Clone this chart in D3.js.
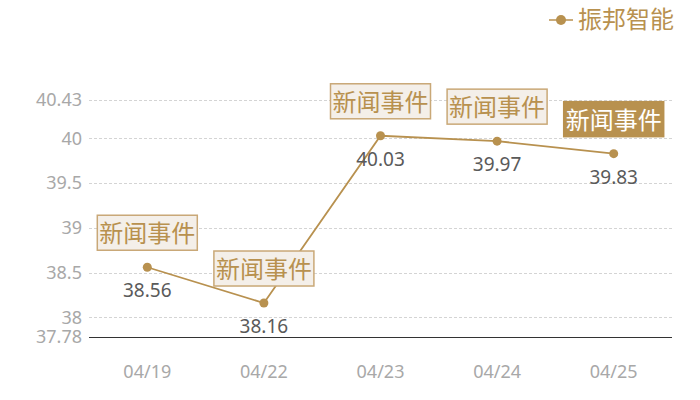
<!DOCTYPE html>
<html lang="zh">
<head>
  <meta charset="UTF-8" />
  <title>振邦智能</title>
  <script src="https://d3js.org/d3.v7.min.js"></script>
  <style>
    body { margin: 0; background: #fff; font-family: "Noto Sans CJK SC", "Noto Sans", sans-serif; }
    svg { display: block; }
    .grid line { stroke: #d4d4d4; stroke-dasharray: 3,2; }
    .tick-label { fill: #a8a8a8; font-size: 18px; font-family: "Noto Sans", sans-serif; }
    .val { fill: #5a5a5a; font-size: 19px; text-anchor: middle; font-family: "Noto Sans", sans-serif; }
    .news text { font-size: 24px; text-anchor: middle; }
  </style>
</head>
<body>
<svg width="700" height="400"></svg>
<script>
const dates = ["04/19", "04/22", "04/23", "04/24", "04/25"];
const prices = [38.56, 38.16, 40.03, 39.97, 39.83];
const yTicks = [37.78, 38, 38.5, 39, 39.5, 40, 40.43];
const newsLabel = "新闻事件";
const highlighted = [false, false, false, false, true];

const gold = "#b8914f";
const svg = d3.select("svg");
const plotL = 89, plotR = 672, plotT = 100, plotB = 337;

const x = d3.scalePoint().domain(dates).range([plotL, plotR]).padding(0.5);
const y = d3.scaleLinear().domain([37.78, 40.43]).range([plotB, plotT]);

// 网格线
svg.append("g").attr("class", "grid")
  .selectAll("line")
  .data(yTicks.filter(d => d !== 37.78))
  .join("line")
  .attr("x1", plotL).attr("x2", plotR)
  .attr("y1", d => Math.round(y(d)) + 0.5).attr("y2", d => Math.round(y(d)) + 0.5);

// y 轴刻度
svg.append("g")
  .selectAll("text")
  .data(yTicks)
  .join("text")
  .attr("class", "tick-label")
  .attr("x", 82)
  .attr("y", d => y(d))
  .attr("dy", "0.35em")
  .attr("text-anchor", "end")
  .text(d => d);

// x 轴
svg.append("line")
  .attr("x1", plotL).attr("x2", plotR)
  .attr("y1", plotB + 0.5).attr("y2", plotB + 0.5)
  .attr("stroke", "#333").attr("stroke-width", 1);

svg.append("g")
  .selectAll("text")
  .data(dates)
  .join("text")
  .attr("class", "tick-label")
  .attr("x", d => x(d))
  .attr("y", 378)
  .attr("text-anchor", "middle")
  .text(d => d);

// 折线
const pts = dates.map((d, i) => ({ date: d, v: prices[i], hl: highlighted[i] }));
svg.append("path")
  .datum(pts)
  .attr("fill", "none")
  .attr("stroke", gold)
  .attr("stroke-width", 1.8)
  .attr("d", d3.line().x(d => x(d.date)).y(d => y(d.v)));

svg.append("g")
  .selectAll("circle")
  .data(pts)
  .join("circle")
  .attr("cx", d => x(d.date))
  .attr("cy", d => y(d.v))
  .attr("r", 4.5)
  .attr("fill", gold);

svg.append("g")
  .selectAll("text")
  .data(pts)
  .join("text")
  .attr("class", "val")
  .attr("x", d => x(d.date))
  .attr("y", d => y(d.v) + 30)
  .text(d => d.v.toFixed(2));

// 新闻事件标注
const news = svg.append("g").attr("class", "news")
  .selectAll("g")
  .data(pts)
  .join("g")
  .attr("transform", d => `translate(${x(d.date)},${y(d.v) - 17})`);

news.append("rect")
  .attr("x", -50).attr("y", -35)
  .attr("width", 100).attr("height", 35)
  .attr("fill", d => d.hl ? gold : "#f4efe9")
  .attr("stroke", d => d.hl ? gold : "#c9a877")
  .attr("stroke-width", 1.5);

news.append("text")
  .attr("y", -8)
  .attr("fill", d => d.hl ? "#fff" : "#b8914f")
  .text(newsLabel);

// 图例
const lg = svg.append("g").attr("transform", "translate(549,20)");
lg.append("line").attr("x1", 0).attr("x2", 24).attr("stroke", gold).attr("stroke-width", 1.5);
lg.append("circle").attr("cx", 12).attr("r", 5).attr("fill", gold);
lg.append("text")
  .attr("x", 29).attr("dy", "0.35em")
  .attr("fill", gold)
  .style("font-size", "24px")
  .text("振邦智能");
</script>
</body>
</html>
